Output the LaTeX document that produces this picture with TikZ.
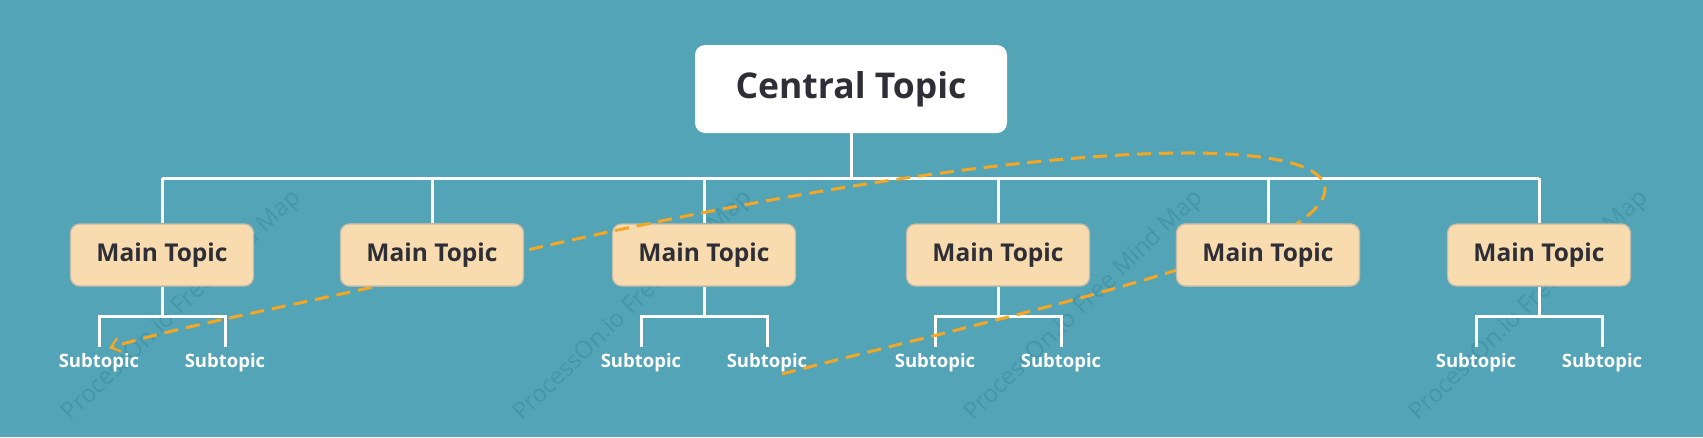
\documentclass[tikz,border=0pt]{standalone}
\usepackage{fontspec}
\setmainfont{Open Sans}
\usetikzlibrary{arrows.meta}
\definecolor{bg}{HTML}{52A4B6}
\definecolor{mainf}{HTML}{F8DCB0}
\definecolor{maind}{HTML}{C4BBA8}
\definecolor{txt}{HTML}{2E2E36}
\definecolor{rel}{HTML}{F5A623}
\definecolor{wm}{HTML}{4596A8}
\begin{document}
\begin{tikzpicture}[x=1pt,y=-1pt,
  central/.style={fill=white,rounded corners=10pt,minimum width=312pt,minimum height=88pt,font=\fontsize{35.5}{38}\selectfont\bfseries,text=txt},
  main/.style={fill=mainf,draw=maind,line width=1.2pt,rounded corners=9pt,minimum width=183pt,minimum height=62pt,font=\fontsize{24.5}{26}\selectfont\bfseries,text=txt},
  sub/.style={font=\fontsize{18.5}{20}\selectfont\bfseries,text=white,inner sep=0pt},
  conn/.style={white,line width=3pt},
  wmark/.style={text=wm,font=\fontsize{24}{26}\selectfont,rotate=44}]
\fill[bg] (0,0) rectangle (1703,437);
\useasboundingbox (0,0) rectangle (1703,437);
\foreach \x in {182,633,1084,1529} \node[wmark] at (\x,306) {ProcessOn.io Free Mind Map};
\node[central] (c) at (851,89) {Central Topic};
\foreach \i/\x in {1/162,2/432,3/704,4/998,5/1268,6/1539}{
  \coordinate (b\i) at (\x,178);
  \node[main] (m\i) at (\x,255) {Main Topic};}
\draw[conn] (c.south) -- (851,178);
\draw[conn] (b1) -- (b6);
\foreach \i in {1,...,6} \draw[conn] (b\i) -- (m\i.north);
\foreach \i/\x in {1/162,3/704,4/998,6/1539}{
  \coordinate (s\i) at (\x,316);
  \node[sub] (sa\i) at (\x-63,363) {Subtopic};
  \node[sub] (sb\i) at (\x+63,363) {Subtopic};
  \draw[conn] (m\i.south) -- (s\i);
  \draw[conn,line cap=butt] (\x-63,347) -- (\x-63,316) -- (\x+63,316) -- (\x+63,347);}
\draw[rel,line width=3pt,dash pattern=on 14pt off 8pt,-{Straight Barb[length=9pt,width=14pt,line width=2.2pt]}]
  (782,374) .. controls (950,330) and (1180,280) .. (1290,228)
  .. controls (1345,195) and (1350,155) .. (1195,153)
  .. controls (1000,152) and (700,210) .. (532,249)
  .. controls (380,290) and (200,320) .. (109,348);
\foreach \i/\x in {2/432,5/1268}
  \node[main] at (\x,255) {Main Topic};
\end{tikzpicture}
\end{document}
